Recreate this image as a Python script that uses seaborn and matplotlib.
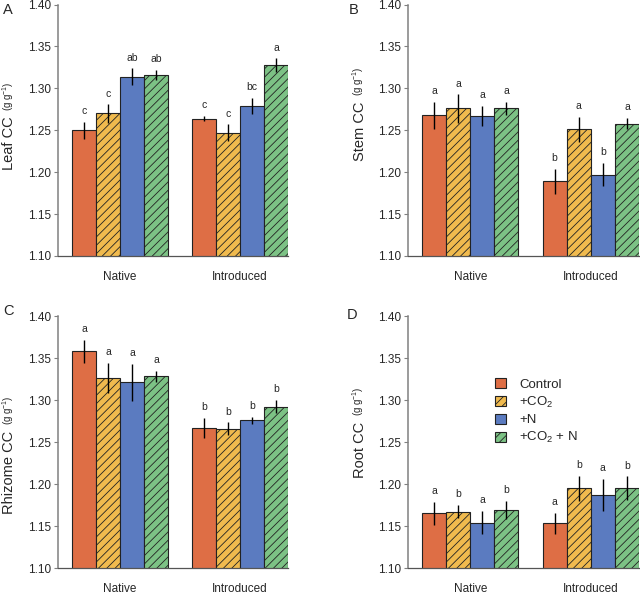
import numpy as np
import pandas as pd
import matplotlib
matplotlib.use("Agg")
import matplotlib.pyplot as plt
import seaborn as sns

# datos
origen = ["Native", "Introduced"]
tratamientos = ["Control", "+CO$_2$", "+N", "+CO$_2$ + N"]
colores = ["#DE6E45", "#F0BA4E", "#5B7BC0", "#7CC285"]
tramas = ["", "////", "", "////"]

paneles = ["A", "B", "C", "D"]
etiquetas_y = ["Leaf CC", "Stem CC", "Rhizome CC", "Root CC"]

# medias: filas = tratamiento, columnas = Native / Introduced
leaf_media = [[1.250, 1.264], [1.270, 1.247], [1.314, 1.279], [1.316, 1.328]]
leaf_se = [[0.010, 0.003], [0.011, 0.010], [0.010, 0.010], [0.006, 0.008]]
leaf_letras = [["c", "c"], ["c", "c"], ["ab", "bc"], ["ab", "a"]]

stem_media = [[1.268, 1.189], [1.276, 1.251], [1.267, 1.197], [1.276, 1.258]]
stem_se = [[0.016, 0.015], [0.017, 0.015], [0.012, 0.014], [0.008, 0.007]]
stem_letras = [["a", "b"], ["a", "a"], ["a", "b"], ["a", "a"]]

rhizome_media = [[1.358, 1.267], [1.326, 1.266], [1.321, 1.276], [1.328, 1.292]]
rhizome_se = [[0.014, 0.012], [0.018, 0.0075], [0.022, 0.004], [0.007, 0.008]]
rhizome_letras = [["a", "b"], ["a", "b"], ["a", "b"], ["a", "b"]]

root_media = [[1.165, 1.153], [1.167, 1.195], [1.154, 1.187], [1.169, 1.195]]
root_se = [[0.014, 0.0125], [0.008, 0.015], [0.014, 0.019], [0.011, 0.014]]
root_letras = [["a", "a"], ["b", "b"], ["a", "a"], ["b", "b"]]

medias = [leaf_media, stem_media, rhizome_media, root_media]
errores = [leaf_se, stem_se, rhizome_se, root_se]
letras = [leaf_letras, stem_letras, rhizome_letras, root_letras]

sns.set_style("ticks")
plt.rcParams["font.family"] = ["Liberation Sans", "DejaVu Sans"]
plt.rcParams["mathtext.fontset"] = "custom"
plt.rcParams["mathtext.rm"] = "Liberation Sans"
plt.rcParams["mathtext.it"] = "Liberation Sans:italic"
plt.rcParams["mathtext.bf"] = "Liberation Sans:bold"
plt.rcParams["hatch.linewidth"] = 0.6

fig = plt.figure(figsize=(6.4, 5.96), dpi=100)
W, H = 640, 596

# posiciones de los ejes en píxeles (izq, arriba, der, abajo)
cajas = [(58, 4.5, 288, 256), (408, 4.5, 639, 256),
         (58, 316, 288, 568), (408, 316, 639, 568)]
pos_letra = [(3, 3), (349, 3), (3, 304), (347, 308)]
centro_ylabel = [0.447, 0.495, 0.38, 0.468]

for i in range(4):
    l, t, r, b = cajas[i]
    ax = fig.add_axes([l / W, (H - b) / H, (r - l) / W, (b - t) / H])

    df = pd.DataFrame({
        "origen": np.tile(origen, len(tratamientos)),
        "tratamiento": np.repeat(tratamientos, len(origen)),
        "cc": np.array(medias[i]).ravel(),
    })
    sns.barplot(data=df, x="origen", y="cc", hue="tratamiento", order=origen,
                hue_order=tratamientos, palette=colores, saturation=1, errorbar=None,
                width=0.8, edgecolor="#222222", linewidth=0.8, legend=False, ax=ax)

    barras = list(ax.containers)
    for k, cont in enumerate(barras):
        for j, barra in enumerate(cont):
            barra.set_hatch(tramas[k])
            xc = barra.get_x() + barra.get_width() / 2
            y = medias[i][k][j]
            e = errores[i][k][j]
            ax.errorbar(xc, y, yerr=e, color="black", lw=1, capsize=0, zorder=5)
            ax.annotate(letras[i][k][j], (xc, y + e), xytext=(0, 4),
                        textcoords="offset points", ha="center", va="bottom",
                        fontsize=7.5)

    ax.set_ylim(1.10, 1.40)
    ax.set_xlim(-0.517, 1.4)
    ax.set_yticks(np.arange(1.10, 1.401, 0.05))
    ax.set_yticklabels([f"{v:.2f}" for v in np.arange(1.10, 1.401, 0.05)])
    ax.tick_params(axis="y", labelsize=8.5, length=3, width=0.8, color="#808080", pad=2)
    ax.tick_params(axis="x", labelsize=8.5, length=0, pad=11)
    ax.set_xlabel("")
    ax.set_ylabel("")
    sns.despine(ax=ax)
    ax.spines["left"].set_color("#808080")
    ax.spines["left"].set_linewidth(1.1)
    ax.spines["bottom"].set_color("#555555")
    ax.spines["bottom"].set_linewidth(0.9)

    # etiqueta del eje y en dos tamaños
    x_lab = -48.5 / (r - l)
    grande = ax.text(x_lab, centro_ylabel[i], etiquetas_y[i], rotation=90,
                     transform=ax.transAxes, ha="center", va="center", fontsize=10.5)
    ax.annotate("(g g$^{-1}$)", xy=(1, 1), xycoords=grande, xytext=(0, 4),
                textcoords="offset points", rotation=90, ha="right", va="bottom",
                fontsize=7)

    fig.text(pos_letra[i][0] / W, 1 - pos_letra[i][1] / H, paneles[i],
             ha="left", va="top", fontsize=10.5)

    if i == 3:
        manejadores = [cont[0] for cont in barras]
        ax.legend(manejadores, tratamientos, loc="upper left",
                  bbox_to_anchor=(0.355, 0.775), frameon=False, fontsize=9.5,
                  handlelength=0.8, handleheight=0.8, handletextpad=1.0,
                  labelspacing=0.3, borderaxespad=0)

fig.savefig("out.png", dpi=100)
